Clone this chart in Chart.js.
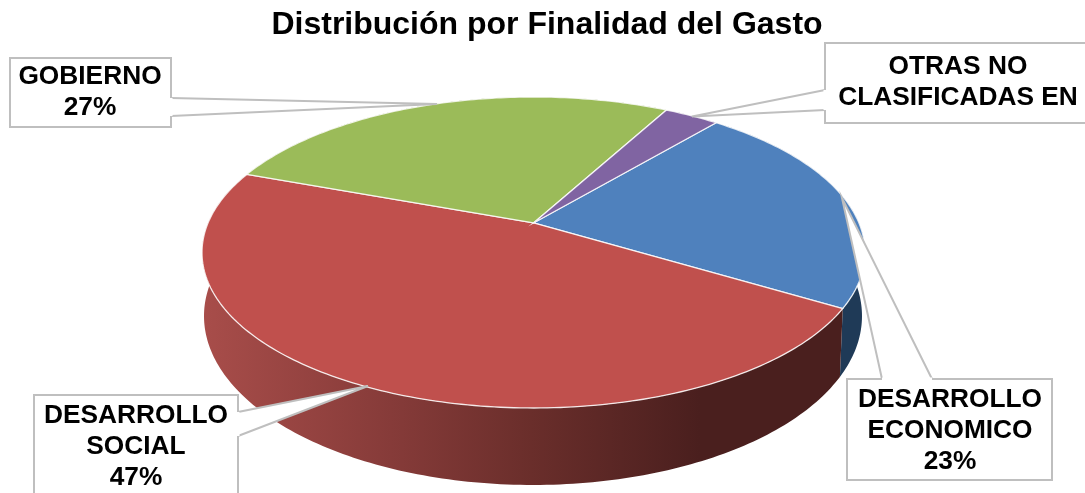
<!DOCTYPE html>
<html>
<head>
<meta charset="utf-8">
<title>Distribución por Finalidad del Gasto</title>
<script src="https://cdn.jsdelivr.net/npm/chart.js@4"></script>
<style>
    html, body { margin: 0; padding: 0; background: #fff; overflow: hidden; }
    canvas { display: block; }
</style>
</head>
<body>
<canvas id="pie3d" width="1085" height="493"></canvas>
<script>
const categories = ['DESARROLLO ECONOMICO', 'DESARROLLO SOCIAL', 'GOBIERNO', 'OTRAS NO CLASIFICADAS EN'];
// they round to the printed percentages
const values = [22.5, 47, 27.3, 3.2];
const labelLines = [['DESARROLLO', 'ECONOMICO'], ['DESARROLLO', 'SOCIAL'], ['GOBIERNO'], ['OTRAS NO', 'CLASIFICADAS EN']];
const showPercent = [true, true, true, false];
const topColors = ['#4F81BD', '#C0504D', '#9BBB59', '#8064A2'];

// perspective of the two faces of the disc
const P = -0.19;
const topFace = { cx: 533.5, cy: 252.5, rx: 331.5, ry: 155.5 };
const bottomFace = { cx: 533, cy: 316, rx: 329, ry: 169 };

function project(face, t) {
    const w = 1 + P * Math.sin(t);
    const a = face.rx * Math.sqrt(1 - P * P);
    const b = face.ry * (1 - P * P);
    return {
        x: face.cx + a * Math.cos(t) / w,
        y: face.cy + P * face.ry + b * Math.sin(t) / w
    };
}

function apex(face) {
    return { x: face.cx, y: face.cy + P * face.ry };
}

function traceEdge(ctx, face, from, to) {
    const steps = Math.max(2, Math.ceil(Math.abs(to - from) * 60));
    for (let i = 0; i <= steps; i++) {
        const p = project(face, from + (to - from) * i / steps);
        ctx.lineTo(p.x, p.y);
    }
}

function drawWall(ctx, arc, fill) {
    ctx.beginPath();
    traceEdge(ctx, topFace, arc.startAngle, arc.endAngle);
    traceEdge(ctx, bottomFace, arc.endAngle, arc.startAngle);
    ctx.closePath();
    ctx.fillStyle = fill;
    ctx.fill();
}

function drawTop(ctx, arc, fill) {
    const c = apex(topFace);
    ctx.beginPath();
    ctx.moveTo(c.x, c.y);
    traceEdge(ctx, topFace, arc.startAngle, arc.endAngle);
    ctx.closePath();
    ctx.fillStyle = fill;
    ctx.fill();
    ctx.strokeStyle = 'rgba(255,255,255,0.85)';
    ctx.lineWidth = 1.3;
    ctx.stroke();
}

// box, then the wedge going to tip
const callouts = [
    { box: [847, 379, 205, 101], textX: 950, textY: 400, wedge: [[882, 379], [842, 198], [932, 379]] },
    { box: [34, 395, 204, 110], textX: 136, textY: 416, wedge: [[238, 412], [368, 386], [238, 436]] },
    { box: [10, 58, 161, 69], textX: 90, textY: 77, wedge: [[171, 98], [437, 104], [171, 116]] },
    { box: [825, 43, 280, 80], textX: 958, textY: 67, wedge: [[825, 90], [692, 116.5], [825, 110]] }
];

function drawCallout(ctx, c, i) {
    const [x, y, w, h] = c.box;
    const [a, tip, b] = c.wedge;
    ctx.fillStyle = '#fff';
    ctx.strokeStyle = '#BFBFBF';
    ctx.lineWidth = 2;
    ctx.lineJoin = 'miter';

    ctx.beginPath();
    ctx.rect(x, y, w, h);
    ctx.fill();
    ctx.stroke();

    ctx.beginPath();
    ctx.moveTo(a[0], a[1]);
    ctx.lineTo(tip[0], tip[1]);
    ctx.lineTo(b[0], b[1]);
    ctx.fill();
    ctx.stroke();

    // hide the box border under the wedge mouth
    ctx.beginPath();
    ctx.moveTo(a[0], a[1]);
    ctx.lineTo(b[0], b[1]);
    ctx.strokeStyle = '#fff';
    ctx.lineWidth = 3;
    ctx.stroke();

    const lines = labelLines[i].slice();
    if (showPercent[i]) lines.push(`${Math.round(values[i])}%`);
    ctx.fillStyle = '#000';
    ctx.font = 'bold 26.3px "Liberation Sans", Arial, sans-serif';
    ctx.textAlign = 'center';
    ctx.textBaseline = 'middle';
    lines.forEach((line, n) => ctx.fillText(line, c.textX, c.textY + n * 30.7));
}

const pie3dPlugin = {
    id: 'pie3d',
    beforeDatasetsDraw(chart) {
        const ctx = chart.ctx;
        const arcs = chart.getDatasetMeta(0).data;

        const redWall = ctx.createLinearGradient(203, 0, 700, 0);
        redWall.addColorStop(0, '#A84D4A');
        redWall.addColorStop(0.4, '#843A38');
        redWall.addColorStop(0.66, '#6A2E2B');
        redWall.addColorStop(1, '#4A1F1E');
        const wallFills = ['#1F3A57', redWall, '#5E7133', '#4C3C61'];

        ctx.save();
        [3, 2, 0, 1].forEach(i => drawWall(ctx, arcs[i], wallFills[i]));
        arcs.forEach((arc, i) => drawTop(ctx, arc, topColors[i]));
        callouts.forEach((c, i) => drawCallout(ctx, c, i));
        ctx.restore();
        return false;
    }
};

new Chart(document.getElementById('pie3d').getContext('2d'), {
    type: 'pie',
    data: {
        labels: categories,
        datasets: [{ data: values, backgroundColor: topColors, borderWidth: 0 }]
    },
    options: {
        responsive: false,
        animation: false,
        rotation: 40,
        layout: { padding: { left: 9, top: 6 } },
        plugins: {
            legend: { display: false },
            tooltip: { enabled: false },
            title: {
                display: true,
                text: 'Distribución por Finalidad del Gasto',
                color: '#000',
                font: { family: '"Liberation Sans", Arial, sans-serif', size: 32, weight: 'bold' },
                padding: { top: 0, bottom: 0 }
            }
        }
    },
    plugins: [pie3dPlugin]
});
</script>
</body>
</html>
